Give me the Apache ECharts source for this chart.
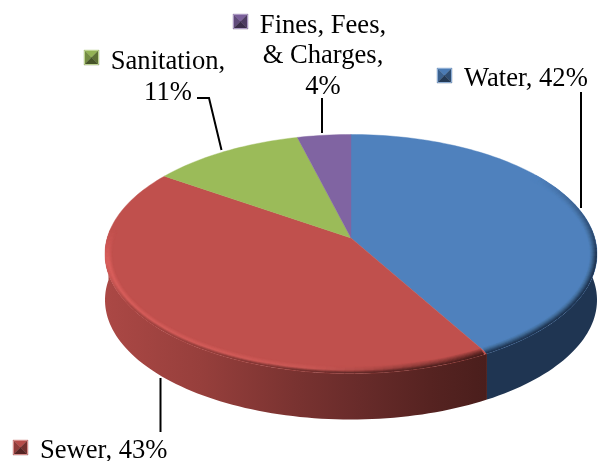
<!DOCTYPE html>
<html><head><meta charset="utf-8">
<style>html,body{margin:0;padding:0;background:#fff}#c{width:601px;height:461px}</style>
<script src="https://cdn.jsdelivr.net/npm/echarts@6/dist/echarts.min.js"></script>
</head><body><div id="c"></div>
<script>
const categories = ['Water', 'Sewer', 'Sanitation', 'Fines, Fees, & Charges'];
const values = [41.8, 42.8, 11.4, 4.0];
const labelLines = [['Water, 42%'], ['Sewer, 43%'], ['Sanitation,', '11%'], ['Fines, Fees,', '& Charges,', '4%']];
const topColors = ['#4F81BD', '#C0504D', '#9BBB59', '#8064A2'];

const chart = echarts.init(document.getElementById('c'), null, {renderer: 'canvas'});
const FONT = '26.6px "Liberation Serif"';
// projection of the tilted disc
const EX = 351, EY = 254, EA = 246, EB = 119.5, DEPTH = 46, APEX_DY = -16;
const P = APEX_DY / EB, A = EA * Math.sqrt(1 - P * P);
const total = values.reduce((a, b) => a + b, 0);
const D2R = Math.PI / 180;
function rim(deg, inset) {
  const t = deg * D2R, u = Math.sin(t), v = -Math.cos(t), w = 1 + P * v;
  const X = A * u / w, Y = (EB * v + APEX_DY) / w, d = inset || 0;
  return [EX + X * (1 - d / EA), EY + Y * (1 - d / EB)];
}
const apex = () => [EX, EY + APEX_DY];
function span(i) {
  let s = 0; for (let k = 0; k < i; k++) s += values[k];
  return [s / total * 360, (s + values[i]) / total * 360];
}
function arc(a, b) { const o = []; const n = Math.max(2, Math.ceil((b - a) / 1.5)); for (let k = 0; k <= n; k++) o.push(rim(a + (b - a) * k / n)); return o; }
const hex = c => [1, 3, 5].map(i => parseInt(c.substr(i, 2), 16));
const mix = (a, b, t) => { const x = hex(a), y = hex(b); return '#' + x.map((v, i) => Math.round(v + (y[i] - v) * t).toString(16).padStart(2, '0')).join(''); };
function ramp(stops, x) {
  if (x <= stops[0][0]) return stops[0][1];
  for (let i = 1; i < stops.length; i++) if (x <= stops[i][0]) return mix(stops[i - 1][1], stops[i][1], (x - stops[i - 1][0]) / (stops[i][0] - stops[i - 1][0]));
  return stops[stops.length - 1][1];
}
const redWall = [[105, '#AB4845'], [200, '#973F3C'], [300, '#783230'], [360, '#682B2A'], [430, '#562321'], [487, '#4A1E1C']];
const redHi = [[105, '#D95F5C'], [250, '#D25C59'], [320, '#C95855'], [370, '#B04A47'], [430, '#8A3A37'], [487, '#6A2A28']];
const blueWall = '#1F3552';

function wallFill(i) {
  if (i === 0) return blueWall;
  return new echarts.graphic.LinearGradient(105, 0, 487, 0, redWall.map(s => ({offset: (s[0] - 105) / 382, color: s[1]})), true);
}
const seriesList = [
  { // side walls
    type: 'custom', coordinateSystem: 'none', z: 1, silent: true, animation: false, data: values.map((v, i) => [i, v]),
    renderItem(p) {
      const i = p.dataIndex; if (i > 1) return {type: 'group', children: []};
      const s = span(i), a = i === 1 ? Math.min(s[1], 272) : Math.max(s[0], 85);
      const pts = i === 1 ? arc(s[0], a) : arc(a, s[1]);
      const low = pts.slice().reverse().map(q => [q[0], q[1] + DEPTH]);
      return {type: 'polygon', shape: {points: pts.concat(low)}, style: {fill: wallFill(i)}};
    }
  },
  { // top faces
    type: 'custom', coordinateSystem: 'none', z: 2, silent: true, animation: false, data: values.map((v, i) => [i, v]),
    renderItem(p) {
      const i = p.dataIndex, s = span(i);
      return {type: 'polygon', shape: {points: [apex()].concat(arc(s[0], s[1]))}, style: {fill: topColors[i], stroke: topColors[i], lineWidth: 0.4}};
    }
  },
  { // bevel around the front edge
    type: 'custom', coordinateSystem: 'none', z: 3, silent: true, animation: false, data: values.map((v, i) => [i, v]),
    renderItem(p) {
      const i = p.dataIndex; if (i > 1) return {type: 'group', children: []};
      const s = span(i), children = [];
      const from = i === 0 ? 55 : s[0] + 0.8, to = i === 0 ? s[1] : 274;
      const bands = 9, step = 2;
      for (let b = 0; b < bands; b++) {
        const t = b / (bands - 1), inset = 6.5 * (1 - t) + 0.7;
        for (let d = from; d < to; d += step) {
          const q0 = rim(d, inset), q1 = rim(Math.min(d + step, to), inset), x = q0[0];
          let col, fade;
          if (i === 0) {
            fade = Math.min(1, (d - from) / 45);
            const c = t < 0.35 ? mix(topColors[0], '#44709F', t / 0.35) : mix('#44709F', blueWall, (t - 0.35) / 0.65);
            col = mix(topColors[0], c, fade);
          } else {
            fade = d < 258 ? 1 : Math.max(0, (to - d) / 16);
            const g = d < 235 ? 1 : Math.max(0, (258 - d) / 23);
            const hi = ramp(redHi, x), w = ramp(redWall, x);
            const c = t < 0.6 ? mix(topColors[1], hi, t / 0.6) : mix(hi, w, (t - 0.6) / 0.4 * g);
            col = mix(topColors[1], c, fade);
          }
          children.push({type: 'polyline', shape: {points: [q0, q1]}, style: {stroke: col, lineWidth: 1.4, fill: null, lineCap: 'round'}});
        }
      }
      return {type: 'group', children};
    }
  },
  { // data labels, keys and leader lines
    type: 'custom', coordinateSystem: 'none', z: 4, silent: true, animation: false, data: values.map((v, i) => [i, v]),
    renderItem(p) {
      const i = p.dataIndex, children = [];
      const L = {
        leader: [[[581, 92], [581, 208]], [[160.5, 378], [160.5, 432]], [[197, 98], [209, 98], [221.5, 150]], [[322, 98], [322, 133]]][i],
        key: [[437, 68], [13, 440], [84, 50], [233, 14]][i],
        x: [464, 40, 168, 323][i],
        base: [93, 465, 76, 39.5][i],
        align: ['left', 'left', 'center', 'center'][i]
      };
      children.push({type: 'polyline', shape: {points: L.leader}, style: {stroke: '#000', lineWidth: 2, fill: null}});
      const [kx, ky] = L.key, S = 15, c = topColors[i], m = [kx + S / 2, ky + S / 2];
      const tri = [[[kx, ky], [kx + S, ky], m, mix(c, '#000000', 0.05)], [[kx, ky], m, [kx, ky + S], mix(c, '#000000', 0.25)], [[kx + S, ky], [kx + S, ky + S], m, mix(c, '#000000', 0.4)], [[kx, ky + S], [kx + S, ky + S], m, mix(c, '#000000', 0.55)]];
      tri.forEach(t => children.push({type: 'polygon', shape: {points: t.slice(0, 3)}, style: {fill: t[3], stroke: t[3], lineWidth: 0.3}}));
      children.push({type: 'rect', shape: {x: kx + 0.5, y: ky + 0.5, width: S - 1, height: S - 1}, style: {fill: null, stroke: mix(c, '#ffffff', 0.35), lineWidth: 1}});
      labelLines[i].forEach((line, k) => children.push({
        type: 'text', x: L.x, y: L.base + k * 30.5,
        style: {text: line, font: FONT, fill: '#000', textAlign: L.align, textVerticalAlign: 'bottom', verticalAlign: 'bottom'}
      }));
      return {type: 'group', children};
    }
  }
];
chart.setOption({animation: false, backgroundColor: '#fff', series: seriesList});
</script></body></html>
